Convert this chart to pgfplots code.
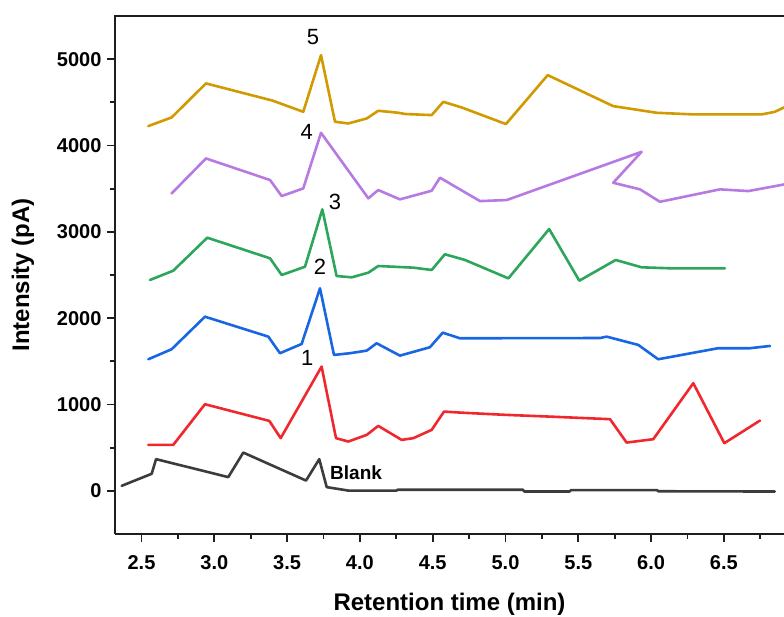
\documentclass[border=0pt]{standalone}
\usepackage{pgfplots}
\pgfplotsset{compat=1.18}
\usepackage{fontspec}
\setmainfont{Liberation Sans}
\definecolor{cgold}{RGB}{208,154,0}
\definecolor{cpurple}{RGB}{182,122,226}
\definecolor{cgreen}{RGB}{44,166,90}
\definecolor{cblue}{RGB}{24,102,226}
\definecolor{cred}{RGB}{240,40,46}
\definecolor{cblank}{RGB}{60,60,60}
\definecolor{caxis}{RGB}{30,30,30}
\begin{document}
\begin{tikzpicture}
\begin{axis}[
  at={(0,0)}, anchor=south west,
  scale only axis, width=669pt, height=518pt,
  xmin=2.318, xmax=6.913, ymin=-500, ymax=5500,
  axis x line*=bottom, axis y line*=left,
  axis line style={-, line width=1.9pt, caxis},
  tick align=outside,
  xtick={2.5,3.0,3.5,4.0,4.5,5.0,5.5,6.0,6.5},
  ytick={0,1000,2000,3000,4000,5000},
  minor xtick={2.75,3.25,3.75,4.25,4.75,5.25,5.75,6.25,6.75},
  minor ytick={500,1500,2500,3500,4500},
  major tick length=8pt, minor tick length=5pt,
  tick style={line width=1.9pt, caxis},
  /pgf/number format/assume math mode=true,
  ticklabel style={font=\fontsize{20}{23}\selectfont\bfseries},
  xticklabel shift=10pt,
  yticklabel shift=2pt,
  xticklabel style={/pgf/number format/.cd, fixed, fixed zerofill, precision=1},
  yticklabel style={/pgf/number format/.cd, fixed, set thousands separator={}},
  every axis x label/.style={at={(rel axis cs:0.5,0)}, yshift=-70pt, anchor=center},
  every axis y label/.style={at={(rel axis cs:0,0.5)}, xshift=-92pt, rotate=90, anchor=center},
  label style={font=\fontsize{24}{28}\selectfont\bfseries},
  xlabel={Retention time (min)},
  ylabel={Intensity (pA)},
  every axis plot/.append style={line width=2.6pt, line join=round, line cap=round, mark=none},
  clip=true,
]
% 5
\addplot[cgold] coordinates {
(2.547,4225) (2.707,4325) (2.943,4719) (3.40,4520) (3.611,4390) (3.733,5046) (3.829,4275)
(3.92,4255) (4.047,4313) (4.126,4402) (4.26,4380) (4.31,4365) (4.493,4352) (4.573,4506)
(4.70,4440) (5.003,4248) (5.29,4815) (5.74,4456) (6.038,4379) (6.29,4360) (6.76,4360)
(6.85,4390) (6.95,4470)};
% 4
\addplot[cpurple] coordinates {
(2.707,3445) (2.943,3850) (3.383,3600) (3.463,3414) (3.611,3503) (3.733,4147) (4.058,3388)
(4.126,3484) (4.275,3376) (4.493,3476) (4.55,3627) (4.825,3356) (5.008,3368) (5.935,3927)
(5.74,3568) (5.924,3492) (6.061,3348) (6.473,3492) (6.668,3472) (6.95,3560)};
% 3
\addplot[cgreen] coordinates {
(2.558,2442) (2.718,2550) (2.952,2932) (3.383,2693) (3.463,2500) (3.623,2596) (3.742,3260)
(3.84,2488) (3.944,2473) (4.058,2527) (4.126,2604) (4.367,2585) (4.493,2558) (4.584,2740)
(4.722,2674) (5.02,2461) (5.30,3032) (5.507,2434) (5.757,2674) (5.935,2589) (6.141,2577)
(6.507,2577)};
% 2
\addplot[cblue] coordinates {
(2.547,1524) (2.707,1640) (2.936,2017) (3.371,1786) (3.451,1594) (3.60,1701) (3.726,2346)
(3.822,1574) (3.932,1594) (4.047,1624) (4.115,1709) (4.275,1566) (4.481,1663) (4.569,1832)
(4.687,1767) (5.65,1770) (5.695,1786) (5.912,1690) (6.049,1524) (6.461,1652) (6.679,1652)
(6.817,1678)};
% 1
\addplot[cred] coordinates {
(2.547,532) (2.718,532) (2.936,1003) (3.378,810) (3.456,610) (3.737,1439) (3.836,610)
(3.92,571) (4.047,648) (4.126,752) (4.287,590) (4.367,610) (4.493,706) (4.578,918)
(4.70,905) (5.0,880) (5.3,860) (5.718,830) (5.832,559) (6.015,598) (6.29,1247) (6.503,552)
(6.748,814)};
% Blank
\addplot[cblank] coordinates {
(2.364,58) (2.57,197) (2.60,367) (3.096,159) (3.199,443) (3.63,119) (3.721,367) (3.772,43)
(3.92,3) (4.25,3) (4.26,12) (5.12,12) (5.13,-8) (5.44,-8) (5.45,8) (6.04,8) (6.05,-5)
(6.85,-8)};
\node[font=\fontsize{22}{26}\selectfont] at (axis cs:3.678,5255) {5};
\node[font=\fontsize{22}{26}\selectfont] at (axis cs:3.635,4159) {4};
\node[font=\fontsize{22}{26}\selectfont] at (axis cs:3.829,3348) {3};
\node[font=\fontsize{22}{26}\selectfont] at (axis cs:3.726,2596) {2};
\node[font=\fontsize{22}{26}\selectfont] at (axis cs:3.639,1536) {1};
\node[font=\fontsize{19}{22}\selectfont\bfseries, anchor=west, inner sep=0pt] at (axis cs:3.795,212) {Blank};
\end{axis}
\draw[line width=1.9pt, caxis] ([xshift=-0.95pt]current axis.north west) -- (current axis.north east);
\pgfresetboundingbox
\path (-115pt,-83pt) rectangle (669pt,534pt);
\end{tikzpicture}
\end{document}
